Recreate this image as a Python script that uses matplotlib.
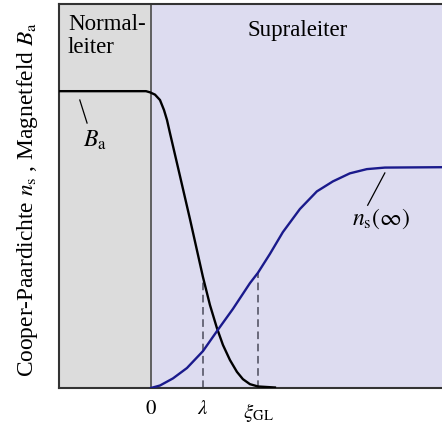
import numpy as np
from matplotlib import pyplot as plt

plt.rcParams['font.family'] = 'Liberation Serif'
plt.rcParams['mathtext.fontset'] = 'stix'

## Daten
# Magnetfeld B_a
x_b = [-1.77, -0.212, -0.096, -0.019, 0.077, 0.173, 0.25, 0.308, 0.365, 0.558, 0.75, 1.0,
       1.135, 1.269, 1.385, 1.519, 1.654, 1.769, 1.904, 2.058, 2.385]
y_b = [0.773, 0.773, 0.773, 0.770, 0.764, 0.75, 0.724, 0.698, 0.664, 0.552, 0.440, 0.289,
       0.216, 0.156, 0.112, 0.073, 0.042, 0.023, 0.010, 0.004, 0.0013]
# Cooper-Paardichte n_s
x_n = [0.0, 0.173, 0.423, 0.692, 1.0, 1.269, 1.577, 1.904, 2.058, 2.288, 2.538, 2.865,
       3.192, 3.5, 3.827, 4.154, 4.5, 5.6]
y_n = [0.0, 0.0065, 0.025, 0.052, 0.096, 0.148, 0.206, 0.273, 0.30, 0.349, 0.406, 0.466,
       0.512, 0.538, 0.559, 0.570, 0.574, 0.575]

lam = 1.0
xi = 2.058
tick_pos = [0, lam, xi]
tick_lab = ['$0$', r'$\lambda$', r'$\xi_\mathrm{GL}$']

fig = plt.figure(figsize=(4.42, 4.26), dpi=100)
ax = fig.add_axes([59/442, 38/426, 1 - 59/442, 384/426])
ax.set_xlim(-1.77, 5.6)
ax.set_ylim(0, 1)

ax.axvspan(-1.77, 0, color='#dcdcdc', zorder=0)
ax.axvspan(0, 5.6, color='#dddcf0', zorder=0)
ax.axvline(0, color='#555555', lw=1.3, zorder=1)

ax.plot(x_b, y_b, color='black', lw=1.7, zorder=3, solid_joinstyle='round')
ax.plot(x_n, y_n, color='#1a1a8c', lw=1.7, zorder=3, solid_joinstyle='round')

ax.plot([lam, lam], [0, 0.289], color='#4a4a5a', lw=1.1, ls=(0, (5, 3)), zorder=2)
ax.plot([xi, xi], [0, 0.30], color='#4a4a5a', lw=1.1, ls=(0, (5, 3)), zorder=2)

for s in ['left', 'bottom', 'top']:
    ax.spines[s].set_color('#333333')
    ax.spines[s].set_linewidth(1.5)
ax.spines['right'].set_visible(False)

ax.set_xticks(tick_pos)
ax.set_xticklabels(tick_lab, fontsize=15)
ax.tick_params(axis='x', length=0, pad=9)
ax.set_yticks([])

ax.set_ylabel(r'Cooper-Paardichte $n_\mathrm{s}$ , Magnetfeld $B_\mathrm{a}$', fontsize=16.8)
ax.yaxis.set_label_coords(-0.05, 0.492)

ax.text(-1.6, 0.975, 'Normal-\nleiter', fontsize=16.5, va='top', ha='left', linespacing=1.15)
ax.text(2.83, 0.93, 'Supraleiter', fontsize=16.5, va='center', ha='center')

# Beschriftungen mit Strich
ax.plot([-1.37, -1.23], [0.75, 0.69], color='black', lw=0.9)
ax.text(-1.08, 0.645, r'$B_\mathrm{a}$', fontsize=17, ha='center', va='center')
ax.plot([4.5, 4.17], [0.56, 0.476], color='black', lw=0.9)
ax.text(4.42, 0.44, r'$n_\mathrm{s}(\infty)$', fontsize=17, ha='center', va='center')

plt.savefig('out.png', dpi=100)
